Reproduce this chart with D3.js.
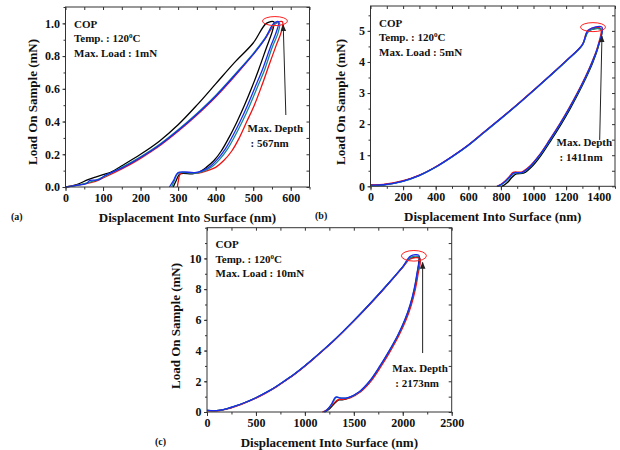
<!DOCTYPE html>
<html>
<head>
<meta charset="utf-8">
<script src="https://cdn.jsdelivr.net/npm/d3@7/dist/d3.min.js"></script>
<style>
body { margin: 0; background: #fff; }
text { font-family: "Liberation Serif", "Times New Roman", serif; font-weight: bold; fill: #111; }
</style>
</head>
<body>
<svg id="chart" width="620" height="450"></svg>
<script>
// ---- data (x = displacement in nm, y = load in mN) ----
// panel (a): max load 1 mN
var aBlack = [[0,0],[30,0.015],[60,0.045],[80,0.06],[100,0.075],[120,0.09],[150,0.13],[200,0.2],[250,0.28],[300,0.38],[350,0.5],[400,0.63],[450,0.76],[500,0.88],[535,1.0],[555,1.01],[552,0.96],[535,0.85],[515,0.72],[495,0.6],[475,0.49],[455,0.39],[435,0.3],[415,0.22],[395,0.16],[375,0.12],[355,0.09],[338,0.08],[305,0.08],[295,0.04],[287,0]];
var aRed = [[0,0],[40,0.015],[80,0.035],[100,0.055],[150,0.11],[200,0.175],[250,0.25],[300,0.34],[350,0.44],[400,0.55],[450,0.675],[500,0.81],[530,0.9],[560,1.0],[578,1.01],[575,0.95],[562,0.87],[543,0.75],[523,0.62],[503,0.5],[483,0.4],[463,0.3],[443,0.22],[421,0.16],[400,0.12],[378,0.1],[355,0.085],[308,0.085],[300,0.03],[298,0]];
var aTeal = [[0,0],[40,0.015],[80,0.04],[100,0.06],[150,0.12],[200,0.185],[250,0.26],[300,0.35],[350,0.45],[400,0.56],[450,0.685],[500,0.815],[530,0.905],[558,1.0],[570,1.0],[566,0.94],[550,0.85],[531,0.72],[511,0.61],[491,0.5],[471,0.4],[451,0.31],[431,0.23],[411,0.17],[391,0.125],[371,0.1],[350,0.085],[300,0.085],[290,0.04],[283,0]];
var aBlue = [[0,0],[30,0.01],[55,0.02],[65,0.04],[90,0.045],[105,0.07],[150,0.115],[200,0.18],[250,0.255],[300,0.345],[350,0.445],[400,0.555],[450,0.68],[500,0.81],[530,0.9],[555,1.0],[568,1.01],[562,0.95],[545,0.85],[525,0.72],[505,0.61],[485,0.5],[465,0.4],[445,0.31],[425,0.23],[405,0.17],[385,0.125],[365,0.1],[345,0.088],[300,0.088],[288,0.04],[277,0]];

// panel (b): max load 5 mN
var bBlack = [[0,0.03],[80,0.05],[200,0.17],[300,0.35],[400,0.62],[500,0.95],[600,1.32],[700,1.75],[800,2.18],[900,2.62],[1000,3.08],[1100,3.55],[1200,4.03],[1300,4.55],[1338,5.0],[1415,5.05],[1398,4.5],[1365,4.0],[1323,3.5],[1276,3.0],[1225,2.5],[1170,2.0],[1110,1.5],[1047,1.0],[995,0.66],[942,0.43],[895,0.4],[870,0.3],[840,0.12],[815,0.02],[805,0]];
var bRed = [[0,0.05],[80,0.06],[200,0.18],[300,0.36],[400,0.63],[500,0.96],[600,1.33],[700,1.76],[800,2.19],[900,2.63],[1000,3.09],[1100,3.56],[1200,4.04],[1300,4.56],[1335,5.02],[1412,5.08],[1394,4.5],[1359,4.0],[1316,3.5],[1268,3.0],[1216,2.5],[1160,2.0],[1099,1.5],[1035,1.0],[980,0.66],[928,0.46],[875,0.45],[850,0.3],[815,0.12],[785,0.02],[775,0]];
var bTeal = [[0,0.02],[80,0.04],[200,0.16],[300,0.345],[400,0.615],[500,0.945],[600,1.315],[700,1.745],[800,2.175],[900,2.615],[1000,3.075],[1100,3.545],[1200,4.025],[1300,4.545],[1340,5.0],[1418,5.04],[1397,4.5],[1362,4.0],[1320,3.5],[1272,3.0],[1220,2.5],[1164,2.0],[1104,1.5],[1040,1.0],[986,0.66],[935,0.44],[885,0.42],[858,0.3],[822,0.12],[792,0.02],[782,0]];
var bBlue = [[0,0.04],[80,0.05],[200,0.17],[300,0.35],[400,0.62],[500,0.955],[600,1.325],[700,1.755],[800,2.185],[900,2.625],[1000,3.085],[1100,3.555],[1200,4.035],[1300,4.555],[1336,5.02],[1420,5.12],[1396,4.5],[1360,4.0],[1318,3.5],[1270,3.0],[1218,2.5],[1162,2.0],[1101,1.5],[1037,1.0],[983,0.66],[931,0.45],[880,0.43],[853,0.3],[818,0.12],[788,0.02],[778,0]];

// panel (c): max load 10 mN
var cBlack = [[0,0.1],[120,0.1],[200,0.2],[300,0.4],[400,0.64],[500,0.92],[600,1.25],[700,1.62],[800,2.05],[900,2.5],[1000,3.0],[1100,3.54],[1200,4.1],[1300,4.68],[1400,5.3],[1500,5.94],[1600,6.6],[1700,7.28],[1800,7.98],[1900,8.7],[2000,9.44],[2075,10.0],[2170,10.05],[2168,10.0],[2150,9.0],[2122,8.0],[2082,7.0],[2027,6.0],[1955,5.0],[1868,4.0],[1773,3.0],[1667,2.0],[1560,1.3],[1460,0.95],[1395,0.8],[1345,0.78],[1295,0.5],[1240,0.15],[1205,0]];
var cRed = [[0,0.08],[120,0.08],[200,0.18],[300,0.38],[400,0.62],[500,0.9],[600,1.23],[700,1.6],[800,2.03],[900,2.48],[1000,2.98],[1100,3.52],[1200,4.08],[1300,4.66],[1400,5.28],[1500,5.92],[1600,6.58],[1700,7.26],[1800,7.96],[1900,8.68],[2000,9.42],[2072,9.95],[2175,10.0],[2157,9.0],[2129,8.0],[2089,7.0],[2034,6.0],[1962,5.0],[1876,4.0],[1781,3.0],[1674,2.0],[1566,1.3],[1462,0.92],[1392,0.82],[1340,0.8],[1285,0.5],[1220,0.12],[1178,0]];
var cTeal = [[0,0.1],[120,0.1],[200,0.21],[300,0.41],[400,0.65],[500,0.93],[600,1.26],[700,1.63],[800,2.06],[900,2.51],[1000,3.01],[1100,3.55],[1200,4.11],[1300,4.69],[1400,5.31],[1500,5.95],[1600,6.61],[1700,7.29],[1800,7.99],[1900,8.71],[2000,9.45],[2078,10.05],[2168,10.1],[2146,9.0],[2118,8.0],[2078,7.0],[2023,6.0],[1951,5.0],[1864,4.0],[1769,3.0],[1662,2.0],[1555,1.3],[1452,0.96],[1375,0.9],[1320,0.95],[1280,0.55],[1230,0.15],[1195,0]];
var cBlue = [[0,0.1],[120,0.11],[200,0.21],[300,0.41],[400,0.65],[500,0.93],[600,1.26],[700,1.63],[800,2.06],[900,2.51],[1000,3.01],[1100,3.55],[1200,4.11],[1300,4.69],[1400,5.31],[1500,5.95],[1600,6.61],[1700,7.29],[1800,7.99],[1900,8.71],[2000,9.46],[2080,10.15],[2165,10.2],[2144,9.0],[2116,8.0],[2076,7.0],[2021,6.0],[1949,5.0],[1862,4.0],[1767,3.0],[1660,2.0],[1552,1.3],[1450,0.96],[1370,0.9],[1315,0.97],[1275,0.55],[1228,0.15],[1192,0]];

// tick values
var aXTicks = [0,100,200,300,400,500,600];
var aYTicks = [0.0,0.2,0.4,0.6,0.8,1.0];
var bXTicks = [0,200,400,600,800,1000,1200,1400];
var bYTicks = [0,1,2,3,4,5];
var cXTicks = [0,500,1000,1500,2000,2500];
var cYTicks = [0,2,4,6,8,10];

// annotation texts
var maxLoads = ["1mN", "5mN", "10mN"];
var maxDepths = ["567nm", "1411nm", "2173nm"];
// arrow [x1,y1,x2,y2] und ellipse [cx,cy] in data units
var arrowsA = [587,0.44,580,0.99];
var arrowsB = [1406,1.49,1420,4.83];
var arrowsC = [2203,3.84,2203,9.74];
var circA = [558,1.014];
var circB = [1365,5.12];
var circC = [2114,10.17];

var colors = ["#000000", "#ee1111", "#168a8a", "#1a2cf0"];

var svg = d3.select("#chart");

// arrow head
svg.append("defs").append("marker")
    .attr("id", "head")
    .attr("viewBox", "0 0 10 10")
    .attr("refX", 9).attr("refY", 5)
    .attr("markerWidth", 7).attr("markerHeight", 7)
    .attr("orient", "auto")
    .append("path")
    .attr("d", "M0,1 L10,5 L0,9 Z")
    .attr("fill", "#222");

function drawPanel(p) {
    var x = d3.scaleLinear().domain([0, p.xMax]).range([p.left, p.right]);
    var y = d3.scaleLinear().domain([0, p.yMax]).range([p.bottom, p.top]);
    var g = svg.append("g");
    var xMinor = d3.range(0, p.xMax + 1e-9, p.xStep / 2);
    var yMinor = d3.range(0, p.yMax + 1e-9, p.yStep / 2);

    //curves
    var line = d3.line()
        .x(function(d){ return x(d[0]); })
        .y(function(d){ return y(d[1]); })
        .curve(d3.curveCatmullRom.alpha(0.5));
    p.curves.forEach(function(c, i){
        g.append("path")
            .attr("d", line(c))
            .attr("fill", "none")
            .attr("stroke", colors[i])
            .attr("stroke-width", 1.3)
            .attr("stroke-linejoin", "round");
    });

    //Rahmen
    g.append("rect")
        .attr("x", p.left).attr("y", p.top)
        .attr("width", p.right - p.left).attr("height", p.bottom - p.top)
        .attr("fill", "none").attr("stroke", "#333").attr("stroke-width", 1);

    //bottom axis
    g.append("g").attr("transform", "translate(0," + p.bottom + ")")
        .call(d3.axisBottom(x).tickValues(p.xTicks).tickSize(4).tickPadding(2).tickSizeOuter(0).tickFormat(d3.format("d")));
    g.append("g").attr("transform", "translate(0," + p.bottom + ")")
        .call(d3.axisBottom(x).tickValues(xMinor).tickSize(2.5).tickFormat(""));
    //left axis
    g.append("g").attr("transform", "translate(" + p.left + ",0)")
        .call(d3.axisLeft(y).tickValues(p.yTicks).tickSize(3).tickPadding(2.5).tickSizeOuter(0).tickFormat(d3.format(p.yFmt)));
    g.append("g").attr("transform", "translate(" + p.left + ",0)")
        .call(d3.axisLeft(y).tickValues(yMinor).tickSize(2).tickFormat(""));
    //top and right ticks inward
    g.append("g").attr("transform", "translate(0," + p.top + ")")
        .call(d3.axisBottom(x).tickValues(xMinor).tickSize(3).tickFormat(""));
    g.append("g").attr("transform", "translate(" + p.right + ",0)")
        .call(d3.axisLeft(y).tickValues(yMinor).tickSize(3).tickFormat(""));

    g.selectAll(".domain").remove();
    g.selectAll(".tick line").attr("stroke", "#333");
    g.selectAll(".tick text")
        .attr("font-family", "Liberation Serif, serif")
        .attr("font-weight", "bold")
        .attr("font-size", 12)
        .attr("fill", "#111");

    //axis titles
    g.append("text")
        .attr("x", (p.left + p.right) / 2)
        .attr("y", p.bottom + 35)
        .attr("text-anchor", "middle")
        .attr("font-size", 13)
        .text("Displacement Into Surface (nm)");
    g.append("text")
        .attr("transform", "translate(" + p.yTitleX + "," + p.yTitleY + ") rotate(-90)")
        .attr("text-anchor", "middle")
        .attr("dy", "0.35em")
        .attr("font-size", 13)
        .text("Load On Sample (mN)");
    g.append("text")
        .attr("x", p.labelX)
        .attr("y", p.bottom + 33)
        .attr("font-size", 10)
        .text(p.label);

    //info text
    var tx = p.left + 8.5;
    g.append("text").attr("x", tx).attr("y", p.top + 20.5).attr("font-size", 11).text("COP");
    var t2 = g.append("text").attr("x", tx).attr("y", p.top + 35).attr("font-size", 11);
    t2.append("tspan").text("Temp. : 120");
    t2.append("tspan").attr("font-size", 7).attr("dy", -4).text("0");
    t2.append("tspan").attr("dy", 4).text("C");
    g.append("text").attr("x", tx).attr("y", p.top + 49.5).attr("font-size", 11).text("Max. Load : " + p.maxLoad);

    //ellipse at max load
    g.append("ellipse")
        .attr("cx", x(p.circ[0])).attr("cy", y(p.circ[1]))
        .attr("rx", 12.5).attr("ry", p.ry)
        .attr("fill", "none").attr("stroke", "#ff2020").attr("stroke-width", 1);

    //arrow
    g.append("line")
        .attr("x1", x(p.arrow[0])).attr("y1", y(p.arrow[1]))
        .attr("x2", x(p.arrow[2])).attr("y2", y(p.arrow[3]))
        .attr("stroke", "#222").attr("stroke-width", 1)
        .attr("marker-end", "url(#head)");

    g.append("text").attr("x", p.depthX).attr("y", p.depthY).attr("font-size", 11).text("Max. Depth");
    g.append("text").attr("x", p.depthX + 3).attr("y", p.depthY + 15).attr("font-size", 11).text(": " + p.maxDepth);
}

drawPanel({left: 65.5, right: 309.5, top: 7, bottom: 187, xMax: 650, yMax: 1.1, xStep: 100, yStep: 0.2,
    xTicks: aXTicks, yTicks: aYTicks, yFmt: ".1f", curves: [aBlack, aRed, aTeal, aBlue],
    yTitleX: 32, yTitleY: 102, label: "(a)", labelX: 11,
    maxLoad: maxLoads[0], maxDepth: maxDepths[0], arrow: arrowsA, circ: circA, ry: 4.5,
    depthX: 247.5, depthY: 131.5});

drawPanel({left: 370.5, right: 615, top: 6, bottom: 186.3, xMax: 1500, yMax: 5.8, xStep: 200, yStep: 1,
    xTicks: bXTicks, yTicks: bYTicks, yFmt: "d", curves: [bBlack, bRed, bTeal, bBlue],
    yTitleX: 340, yTitleY: 102, label: "(b)", labelX: 315,
    maxLoad: maxLoads[1], maxDepth: maxDepths[1], arrow: arrowsB, circ: circB, ry: 4.5,
    depthX: 556.5, depthY: 145.5});

drawPanel({left: 207, right: 451.7, top: 227.7, bottom: 412, xMax: 2500, yMax: 12, xStep: 500, yStep: 2,
    xTicks: cXTicks, yTicks: cYTicks, yFmt: "d", curves: [cBlack, cRed, cTeal, cBlue],
    yTitleX: 175, yTitleY: 326, label: "(c)", labelX: 155,
    maxLoad: maxLoads[2], maxDepth: maxDepths[2], arrow: arrowsC, circ: circC, ry: 5.3,
    depthX: 392.3, depthY: 371.5});
</script>
</body>
</html>
